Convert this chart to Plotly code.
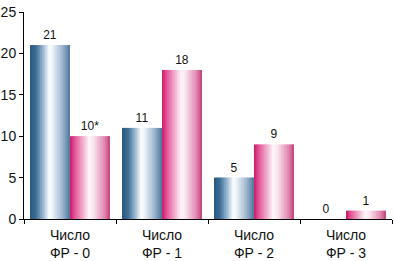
import plotly.graph_objects as go

categories = ["Число<br>ФР - 0", "Число<br>ФР - 1", "Число<br>ФР - 2", "Число<br>ФР - 3"]
series_a = [21, 11, 5, 0]
series_b = [10, 18, 9, 1]
labels_a = ["21", "11", "5", "0"]
labels_b = ["10*", "18", "9", "1"]
y_ticks = [0, 5, 10, 15, 20, 25]

FONT = "Liberation Sans Narrow, Arial Narrow, Liberation Sans, Arial, sans-serif"

blue_stops = [(0.0, (40, 88, 128)), (0.15, (62, 110, 150)), (0.32, (150, 180, 205)),
              (0.48, (250, 252, 255)), (0.55, (240, 245, 250)), (0.8, (160, 185, 208)),
              (1.0, (80, 120, 158))]
pink_stops = [(0.0, (200, 25, 105)), (0.1, (225, 75, 145)), (0.3, (240, 165, 200)),
              (0.48, (253, 245, 250)), (0.58, (250, 230, 240)), (0.85, (225, 140, 180)),
              (1.0, (200, 65, 125))]


def interp(stops, t):
    for (t0, c0), (t1, c1) in zip(stops[:-1], stops[1:]):
        if t0 <= t <= t1:
            f = (t - t0) / (t1 - t0) if t1 > t0 else 0
            c = [round(a + (b - a) * f) for a, b in zip(c0, c1)]
            return "rgb(%d,%d,%d)" % tuple(c)
    return "rgb(%d,%d,%d)" % stops[-1][1]


N = 24
BAR_W = 0.435
fig = go.Figure()

for values, stops, start, labels in [(series_a, blue_stops, -BAR_W, labels_a),
                                     (series_b, pink_stops, 0.0, labels_b)]:
    w = BAR_W / N
    for i in range(N):
        col = interp(stops, (i + 0.5) / N)
        ww = w * 1.6 if i < N - 1 else w
        fig.add_trace(go.Bar(
            x=categories, y=values, offset=start + i * w, width=ww,
            marker=dict(color=col, line=dict(width=0)),
            showlegend=False, hoverinfo="skip"))
    fig.add_trace(go.Bar(
        x=categories, y=values, offset=start, width=BAR_W,
        marker=dict(color="rgba(0,0,0,0)", line=dict(width=0)),
        text=labels, textposition="outside", cliponaxis=False,
        textfont=dict(family=FONT, size=12, color="#111"),
        showlegend=False, hoverinfo="skip"))

fig.update_layout(
    barmode="overlay",
    width=394, height=261,
    margin=dict(l=24, r=2, t=12, b=42, autoexpand=False),
    paper_bgcolor="white", plot_bgcolor="white",
    font=dict(family=FONT, color="#111"),
)
fig.update_xaxes(
    range=[-0.5, 3.5], showline=True, linecolor="black", linewidth=1,
    ticks="outside", tickson="boundaries", ticklen=4, tickcolor="black",
    showgrid=False, automargin=False, tickangle=0, ticklabelstandoff=3,
    tickfont=dict(family=FONT, size=14, color="#111"),
)
fig.update_yaxes(
    range=[0, 25], tickvals=y_ticks, showline=True, linecolor="black", linewidth=1,
    ticks="outside", ticklen=4, tickcolor="black", showgrid=False, zeroline=False,
    automargin=False,
    tickfont=dict(family=FONT, size=14, color="#111"),
)

fig.write_html("out.html", config={"displayModeBar": False},
               post_script="document.body.style.margin='0';")
